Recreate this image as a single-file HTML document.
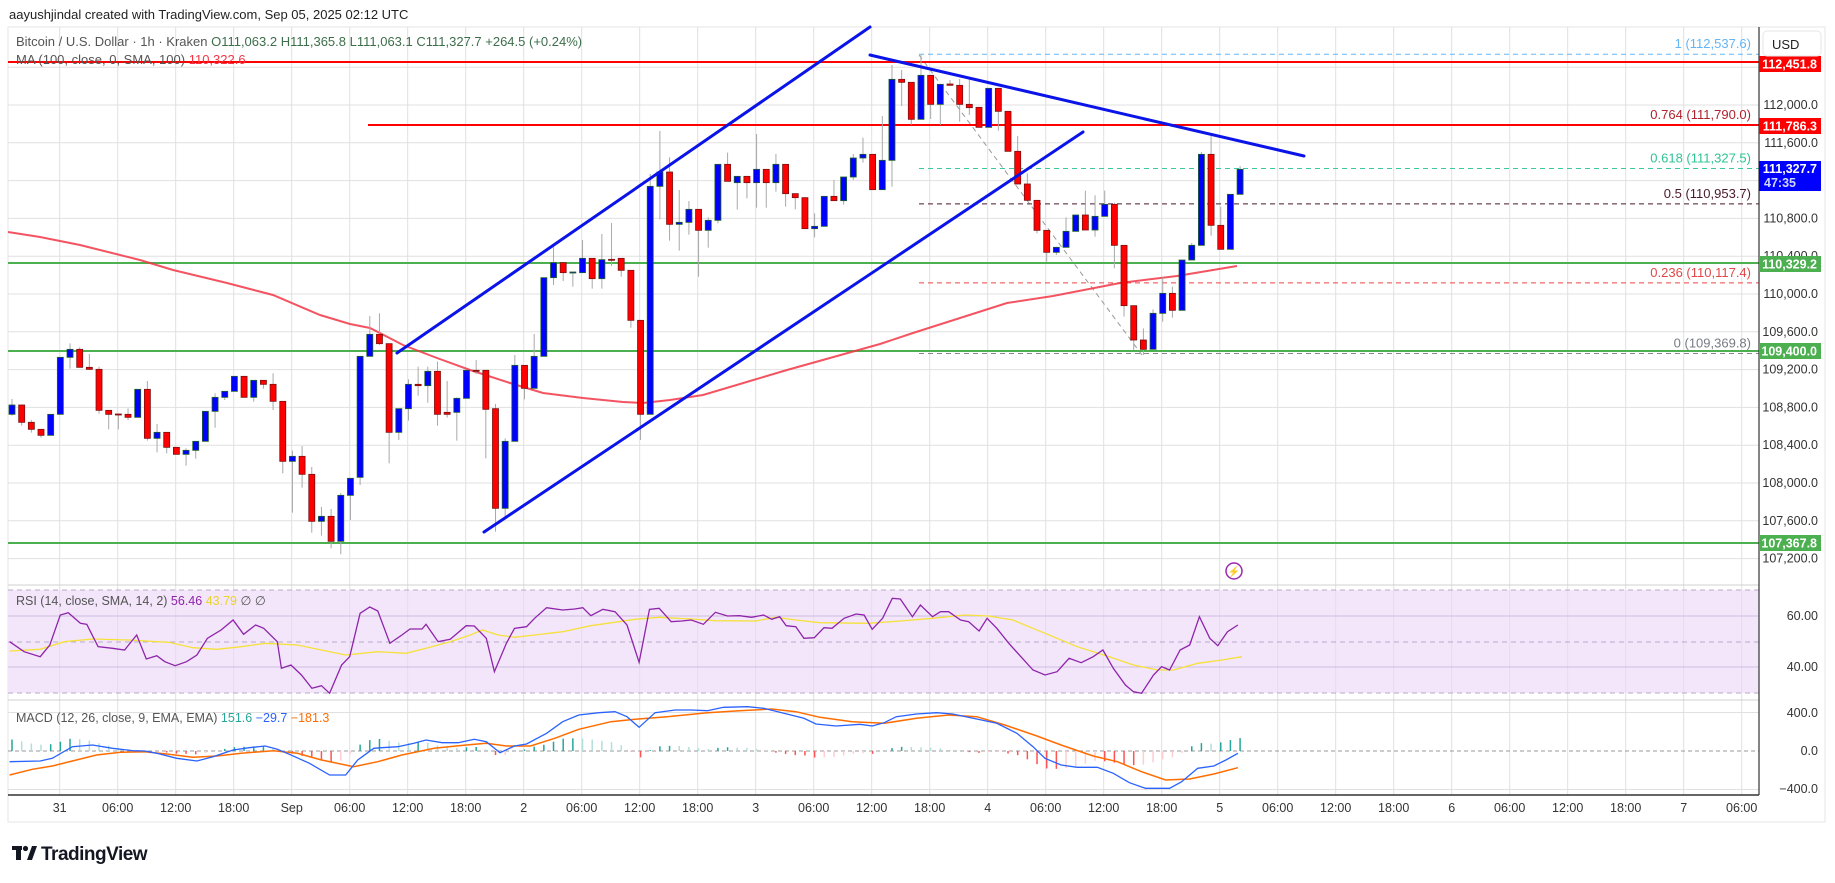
<!DOCTYPE html>
<html><head><meta charset="utf-8"><style>
html,body{margin:0;padding:0;background:#fff;width:1835px;height:883px;overflow:hidden}
svg{display:block;font-family:"Liberation Sans",sans-serif}
</style></head><body>
<svg id="s" width="1835" height="883" viewBox="0 0 1835 883" xmlns="http://www.w3.org/2000/svg">
<rect width="1835" height="883" fill="#fff"/>
<text x="9" y="19" font-size="13" fill="#222">aayushjindal created with TradingView.com, Sep 05, 2025 02:12 UTC</text>
<rect x="8" y="27" width="1817" height="795" fill="#fff" stroke="#e6e6e6"/>
<rect x="8" y="590" width="1751" height="103" fill="#f3e6fb"/>
<g id="grid"></g>
<g id="lv"></g>
<g id="cd"></g>
<g id="ov"></g>
<g id="ind"></g>
<g id="ax"></g>
</svg>
<script>
var NS="http://www.w3.org/2000/svg";
function el(p,t,a,txt){var e=document.createElementNS(NS,t);for(var k in a)e.setAttribute(k,a[k]);if(txt!=null)e.textContent=txt;document.getElementById(p).appendChild(e);return e;}
function py(p){return 105+(112000-p)*0.0945;}
function fmt(p){return p.toLocaleString('en-US',{minimumFractionDigits:1,maximumFractionDigits:1});}
// grid
for(var k=0;k<30;k++){var x=59.7+k*58;if(x>1755)break;el('grid','line',{x1:x,x2:x,y1:27,y2:795,stroke:'#e0e0e0','stroke-width':1});}
for(var p=112400;p>=107200;p-=400){var y=py(p);el('grid','line',{x1:8,x2:1759,y1:y,y2:y,stroke:'#e0e0e0'});}
el('grid','line',{x1:8,x2:1759,y1:585,y2:585,stroke:'#d0d0d0'});
el('grid','line',{x1:8,x2:1759,y1:700,y2:700,stroke:'#d0d0d0'});
[[590,1],[642,1],[693,1]].forEach(function(a){el('grid','line',{x1:8,x2:1759,y1:a[0],y2:a[0],stroke:'#b9aac8','stroke-dasharray':'5,4'});});
[616,667].forEach(function(y){el('grid','line',{x1:8,x2:1759,y1:y,y2:y,stroke:'#cdbfdc'});});
[712.5,789.5].forEach(function(y){el('grid','line',{x1:8,x2:1759,y1:y,y2:y,stroke:'#e0e0e0'});});
el('grid','line',{x1:8,x2:1759,y1:751,y2:751,stroke:'#999','stroke-dasharray':'4,3'});
// levels
function hl(y,x1,c,w,d){var a={x1:x1,x2:1759,y1:y,y2:y,stroke:c,'stroke-width':w};if(d)a['stroke-dasharray']=d;el('lv','line',a);}
hl(py(112537.6),919,'#64b5f6',1,'5,4');
hl(py(111327.5),919,'#3cc9a0',1,'5,4');
hl(py(110953.7),919,'#4a1a2a',1,'5,4');
hl(py(110117.4),919,'#f04545',1,'5,4');
hl(py(109369.8),919,'#888',1,'5,4');
el('lv','line',{x1:919,y1:55,x2:1142,y2:355,stroke:'#999','stroke-dasharray':'5,4'});
hl(62,8,'#ff0000',2);hl(125,368,'#ff0000',2);
hl(263,8,'#4caf50',2);hl(351,8,'#4caf50',2);hl(543,8,'#4caf50',2);
var fl=[[112537.6,'1 (112,537.6)','#64b5f6'],[111790,'0.764 (111,790.0)','#b0222f'],[111327.5,'0.618 (111,327.5)','#2ec494'],[110953.7,'0.5 (110,953.7)','#4a1a2a'],[110117.4,'0.236 (110,117.4)','#e04848'],[109369.8,'0 (109,369.8)','#787b86']];
fl.forEach(function(f){el('lv','text',{x:1751,y:py(f[0])-6,'text-anchor':'end','font-size':13,fill:f[2]},f[1]);});
// MA
el('lv','polyline',{points:'8,232 40,237 80,245 140,260 173,270 227,283 273,295 320,315 350,324 370,328 403,345 437,358 470,370 510,383 543,393 583,398 623,402 643,403 670,400 703,395 750,381 787,370 880,344 913,333 1007,303 1053,296 1120,283 1177,276 1237,266',fill:'none',stroke:'#f23645','stroke-width':2,'stroke-opacity':0.85});
// candles
var Y0={6:230,7:100,8:40};
var C=[[6,'u',525,553,507,557],[6,'d',525,577,525,587],[6,'d',577,598,570,608],[6,'d',598,616,598,623],[6,'u',553,616,553,616],[6,'u',382,553,382,553],[6,'u',358,382,340,416],[6,'d',358,412,352,412],[6,'d',412,418,372,420],[6,'d',418,541,410,551],[6,'d',541,553,541,598],[6,'d',552,554,552,598],[6,'d',553,562,535,570],[6,'u',478,562,478,562],[6,'d',478,625,453,632],[6,'u',607,625,582,667],[6,'d',607,652,607,670],[6,'d',652,673,652,673],[6,'u',661,673,655,707],[6,'u',634,661,634,686],[6,'u',544,634,544,634],[6,'u',502,544,490,593],[6,'u',484,502,484,510],[6,'u',439,484,439,484],[6,'d',439,502,439,502],[6,'u',451,502,451,515],[6,'d',451,463,451,476],[6,'d',463,514,430,540],[6,'d',514,694,514,730],[6,'u',679,694,662,848],[6,'d',679,733,648,773],[6,'d',733,874,711,908],[6,'u',859,874,831,917],[6,'d',859,934,837,955],[6,'u',796,934,789,973],[6,'u',745,796,745,870],[6,'u',379,742,379,765],[6,'u',313,379,258,379],
[7,'d',703,731,640,735],[7,'d',731,997,731,1090],[7,'u',926,997,926,1020],[7,'u',853,926,838,962],[7,'d',853,857,800,887],[7,'u',814,857,800,908],[7,'d',814,943,785,977],[7,'d',937,943,843,953],[7,'u',895,937,892,1022],[7,'u',811,895,811,895],[7,'d',811,813,780,822],[7,'d',811,928,811,1075],[7,'d',926,1225,912,1295],[7,'u',1024,1225,1015,1250],[7,'u',796,1024,765,1024],[7,'d',796,865,796,898],[7,'u',769,865,702,865],[7,'u',533,769,533,769],[7,'u',488,533,440,555],[7,'d',488,518,488,543],[7,'u',516,518,516,560],[7,'u',475,518,420,518],[7,'d',475,536,475,566],[7,'u',479,536,402,566],[7,'d',478,480,369,498],[7,'d',475,511,475,530],[7,'d',511,661,511,683],[7,'d',661,943,661,1020],[7,'u',259,943,222,943],[7,'u',216,259,93,358],[7,'d',216,373,172,422],[7,'u',367,373,270,452],[7,'u',328,367,303,404],[7,'d',328,391,328,530],[7,'u',361,391,352,443],[7,'u',193,361,193,370],[7,'d',193,244,158,244],[7,'u',229,248,229,329],[7,'d',229,248,229,295],
[8,'u',388,428,282,503],[8,'d',388,428,388,503],[8,'u',373,428,342,455],[8,'d',373,461,373,500],[8,'d',461,473,461,508],[8,'d',473,566,473,566],[8,'u',559,566,520,592],[8,'u',469,559,469,559],[8,'d',469,482,420,482],[8,'u',411,482,411,494],[8,'u',354,411,342,420],[8,'u',343,354,293,368],[8,'d',343,449,343,449],[8,'u',361,449,228,449],[8,'u',118,361,75,440],[8,'d',118,127,90,198],[8,'d',127,238,127,255],[8,'u',106,238,45,238],[8,'d',106,193,106,237],[8,'u',133,193,133,255],[8,'d',132,136,120,136],[8,'d',136,193,117,245],[8,'d',193,203,118,225],[8,'d',202,262,202,262],[8,'u',145,262,145,262],[8,'d',145,214,145,272],[8,'d',214,334,214,334],[8,'d',334,432,288,432],[8,'d',432,481,400,481],[8,'d',481,571,481,580],[8,'d',571,637,571,665],[8,'u',622,637,620,645],[8,'u',574,622,532,622],[8,'u',525,574,525,574],[8,'d',525,570,452,570],[8,'u',529,570,466,590],[8,'u',493,529,452,529],[8,'d',493,616,488,685],[8,'d',616,797,616,830],[8,'d',797,900,797,930],[8,'d',900,928,865,945],[8,'u',820,928,808,928],[8,'u',760,820,712,845],[8,'d',760,811,740,833],[8,'u',660,811,660,811],[8,'u',616,660,609,660],[8,'u',343,616,336,616],[8,'d',343,556,288,587],[8,'d',556,628,500,628],[8,'u',463,628,463,628],[8,'u',388,463,378,463]];
C.forEach(function(c,i){var o=Y0[c[0]],x=12+i*9.67;var bt=o+c[2]/3,bb=o+c[3]/3,wt=o+c[4]/3,wb=o+c[5]/3;
 el('cd','line',{x1:x,x2:x,y1:wt,y2:wb,stroke:'#a8a8a8'});
 var h=Math.max(bb-bt,1);
 el('cd','rect',{x:x-3,y:bt,width:6,height:h,fill:c[1]=='u'?'#0000ff':'#ff0000',stroke:c[1]=='u'?'#1f5e2a':'#7a1010','stroke-width':0.8});
});
// trend lines
function bl(a,b,c,d){el('ov','line',{x1:a,y1:b,x2:c,y2:d,stroke:'#0b14e8','stroke-width':3,'stroke-linecap':'round'});}
bl(397,353,870,27);bl(484,532,1083,132);bl(870,55,1304,156);
// lightning
el('ov','circle',{cx:1234,cy:571,r:8,fill:'none',stroke:'#9c27b0','stroke-width':1.5});
el('ov','text',{x:1234,y:575,'text-anchor':'middle','font-size':10,fill:'#9c27b0'},'⚡');
// indicators
function conv(arr,y0){return arr.map(function(p){return (p[0]/1.244).toFixed(1)+','+(y0+p[1]/3).toFixed(1);}).join(' ');}
var rsi=[[12,170],[30,200],[50,215],[62,180],[75,90],[85,83],[100,115],[108,118],[122,185],[140,190],[155,195],[170,150],[182,222],[195,212],[205,230],[218,242],[232,230],[245,210],[258,160],[275,135],[290,105],[303,148],[318,120],[328,130],[345,170],[350,250],[362,240],[375,270],[388,310],[400,302],[410,325],[425,240],[435,215],[448,85],[460,66],[470,78],[485,175],[500,150],[510,132],[525,132],[530,118],[545,170],[560,163],[580,122],[590,123],[605,160],[615,260],[630,175],[640,130],[655,125],[665,100],[680,68],[700,75],[715,72],[725,68],[735,92],[750,73],[765,80],[780,120],[795,232],[808,73],[820,70],[835,110],[848,108],[860,105],[875,118],[890,82],[905,93],[920,92],[935,97],[950,90],[960,103],[970,95],[978,122],[990,125],[1000,160],[1013,158],[1025,128],[1035,130],[1050,100],[1065,87],[1075,90],[1085,133],[1098,100],[1110,40],[1120,42],[1135,95],[1145,60],[1160,95],[1170,80],[1180,80],[1195,105],[1205,110],[1218,138],[1228,100],[1240,130],[1255,175],[1270,215],[1285,255],[1300,270],[1315,260],[1330,220],[1345,233],[1360,215],[1372,195],[1385,250],[1400,300],[1410,320],[1420,325],[1435,270],[1445,245],[1455,255],[1468,195],[1480,180],[1492,95],[1505,160],[1515,182],[1527,140],[1540,120]];
var rsm=[[12,198],[50,193],[80,170],[115,162],[160,165],[210,172],[240,188],[270,193],[300,185],[330,175],[370,180],[400,195],[430,210],[470,200],[505,205],[530,190],[560,170],[585,150],[600,135],[620,150],[640,157],[665,150],[700,140],[735,122],[770,110],[790,103],[820,97],[860,102],[890,107],[940,108],[965,97],[990,105],[1020,113],[1080,115],[1120,108],[1160,100],[1200,90],[1230,93],[1260,105],[1300,145],[1340,185],[1380,215],[1410,240],[1440,255],[1460,255],[1490,235],[1520,225],[1545,215]];
el('ind','polyline',{points:conv(rsm,585),fill:'none',stroke:'#f5e13a','stroke-width':1.3});
el('ind','polyline',{points:conv(rsi,585),fill:'none',stroke:'#8e24aa','stroke-width':1.3});
var mb=[[12,185],[50,183],[65,175],[90,140],[115,135],[140,145],[165,152],[180,153],[195,160],[220,175],[245,183],[265,170],[290,150],[310,143],[330,138],[345,148],[360,163],[385,190],[410,225],[430,225],[445,180],[465,145],[475,143],[495,140],[515,130],[530,120],[550,128],[570,128],[590,118],[605,125],[622,158],[640,138],[655,132],[680,100],[700,65],[720,45],[745,38],[765,35],[780,50],[795,82],[815,38],[840,30],[860,30],[880,32],[900,22],[930,20],[950,25],[975,40],[1000,55],[1015,72],[1040,78],[1070,73],[1085,78],[1100,68],[1115,50],[1140,42],[1165,38],[1185,42],[1215,57],[1240,70],[1265,100],[1285,140],[1300,175],[1320,195],[1340,202],[1365,202],[1385,220],[1405,248],[1425,265],[1455,265],[1470,245],[1490,205],[1510,198],[1525,180],[1540,160]];
var mo=[[12,225],[40,208],[65,198],[90,183],[120,165],[150,157],[180,155],[210,163],[240,172],[270,168],[300,160],[340,152],[370,160],[400,180],[440,200],[470,185],[500,165],[540,145],[580,135],[605,130],[630,138],[660,138],[690,115],[720,88],[760,65],[790,58],[830,50],[880,38],[920,32],[960,27],[990,35],[1020,52],[1060,65],[1100,70],[1140,55],[1180,45],[1215,50],[1250,75],[1290,108],[1320,135],[1360,168],[1390,185],[1420,215],[1450,240],[1480,237],[1510,222],[1540,203]];
function interp(arr,x){var zx=x*1.244;for(var i=0;i<arr.length-1;i++){if(zx>=arr[i][0]&&zx<=arr[i+1][0]){var t=(zx-arr[i][0])/(arr[i+1][0]-arr[i][0]);return 700+(arr[i][1]+t*(arr[i+1][1]-arr[i][1]))/3;}}return 700+arr[arr.length-1][1]/3;}
var prev=0;
for(var i=0;i<128;i++){var x=12+i*9.67;var h=(interp(mo,x)-interp(mb,x))*0.9;var col;
 if(h>=0)col=(h>=prev)?'#26a69a':'#b2dfdb';else col=(h<prev)?'#ff5252':'#ffcdd2';prev=h;
 el('ind','line',{x1:x,x2:x,y1:751,y2:751-h,stroke:col,'stroke-width':1.5});}
el('ind','polyline',{points:conv(mo,700),fill:'none',stroke:'#ff6d00','stroke-width':1.5});
el('ind','polyline',{points:conv(mb,700),fill:'none',stroke:'#2962ff','stroke-width':1.3});
// legends
var t=el('ax','text',{x:16,y:46,'font-size':13,fill:'#555'});
function sp(p,txt,c){var s=document.createElementNS(NS,'tspan');s.setAttribute('fill',c);s.textContent=txt;p.appendChild(s);}
sp(t,'Bitcoin / U.S. Dollar · 1h · Kraken  ','#555');sp(t,'O111,063.2  H111,365.8  L111,063.1  C111,327.7  +264.5 (+0.24%)','#3c6e4a');
t=el('ax','text',{x:16,y:64,'font-size':13,fill:'#555'});sp(t,'MA (100, close, 0, SMA, 100)  ','#555');sp(t,'110,322.6','#f23645');
t=el('ax','text',{x:16,y:605,'font-size':12.5});sp(t,'RSI (14, close, SMA, 14, 2)  ','#555');sp(t,'56.46  ','#8e24aa');sp(t,'43.79  ','#e8d42a');sp(t,'∅  ∅','#555');
t=el('ax','text',{x:16,y:722,'font-size':12.5});sp(t,'MACD (12, 26, close, 9, EMA, EMA)  ','#555');sp(t,'151.6  ','#26a69a');sp(t,'−29.7  ','#2962ff');sp(t,'−181.3','#ff6d00');
// axes
el('ax','rect',{x:1760,y:28,width:64,height:793,fill:'#fff'});
el('ax','line',{x1:1759,x2:1759,y1:27,y2:795,stroke:'#333','stroke-width':1.2});
el('ax','line',{x1:8,x2:1759,y1:795,y2:795,stroke:'#333','stroke-width':1.5});
for(var p=112000;p>=107200;p-=400){el('ax','text',{x:1818,y:py(p)+4,'text-anchor':'end','font-size':12.5,fill:'#333'},fmt(p));}
[['60.00',616],['40.00',667],['400.0',713],['0.0',751],['−400.0',789]].forEach(function(a){el('ax','text',{x:1818,y:a[1]+4,'text-anchor':'end','font-size':12.5,fill:'#333'},a[0]);});
function box(y1,y2,c,txt,fc){el('ax','rect',{x:1759,y:y1,width:62,height:y2-y1,fill:c});el('ax','text',{x:1817,y:(y1+y2)/2+4.5,'text-anchor':'end','font-size':12.5,'font-weight':'bold',fill:fc||'#fff'},txt);}
box(56,72,'#ff0000','112,451.8');box(118,134,'#ff0000','111,786.3');
el('ax','rect',{x:1759,y:161,width:62,height:30,fill:'#0000ff'});
el('ax','text',{x:1817,y:173,'text-anchor':'end','font-size':12.5,'font-weight':'bold',fill:'#fff'},'111,327.7');
el('ax','text',{x:1796,y:187,'text-anchor':'end','font-size':12.5,'font-weight':'bold',fill:'#cfd6ff'},'47:35');
box(256,272,'#4caf50','110,329.2');box(343,359,'#4caf50','109,400.0');box(535,551,'#4caf50','107,367.8');
el('ax','rect',{x:1763,y:31,width:58,height:25,rx:4,fill:'#fff',stroke:'#e6e6e6'});
el('ax','text',{x:1772,y:49,'font-size':13,fill:'#222'},'USD');
var labs=['31','06:00','12:00','18:00','Sep','06:00','12:00','18:00','2','06:00','12:00','18:00','3','06:00','12:00','18:00','4','06:00','12:00','18:00','5','06:00','12:00','18:00','6','06:00','12:00','18:00','7','06:00'];
labs.forEach(function(l,k){var x=59.7+k*58;if(x<1750)el('ax','text',{x:x,y:812,'text-anchor':'middle','font-size':12.5,fill:'#333'},l);});
// logo
el('ax','rect',{x:12,y:846,width:10,height:4,fill:'#131722'});
el('ax','rect',{x:16,y:846,width:5,height:14,fill:'#131722'});
el('ax','circle',{cx:25.5,cy:848.5,r:2.6,fill:'#131722'});
el('ax','polygon',{points:'27,860 32,846 37,846 32,860',fill:'#131722'});
el('ax','text',{x:41,y:860,'font-size':19,'font-weight':'bold',fill:'#131722','letter-spacing':'-0.5'},'TradingView');
</script>
</body></html>
